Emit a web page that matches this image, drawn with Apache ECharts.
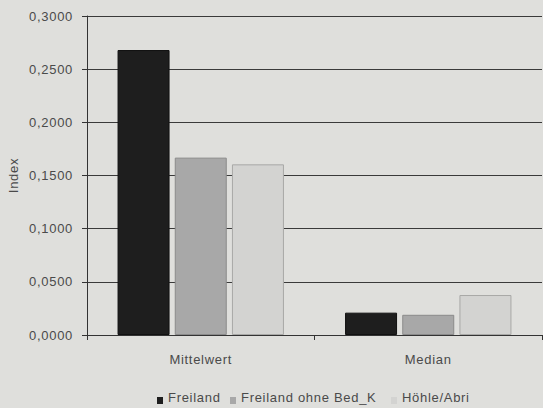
<!DOCTYPE html>
<html>
<head>
<meta charset="utf-8">
<script src="https://cdn.jsdelivr.net/npm/echarts@6/dist/echarts.min.js"></script>
<style>
  html, body { margin: 0; padding: 0; background: #dfdfdc; }
  #chart { width: 543px; height: 408px; letter-spacing: 0.7px; }
</style>
</head>
<body>
<div id="chart"></div>
<script>
// Kategorien und Werte je Fundstellentyp
const categories = ['Mittelwert', 'Median'];
const seriesNames = ['Freiland', 'Freiland ohne Bed_K', 'Höhle/Abri'];
const freiland = [0.268, 0.021];
const freilandOhneBedK = [0.1668, 0.019];
const hoehleAbri = [0.1605, 0.0376];
const yTicks = [0, 0.05, 0.1, 0.15, 0.2, 0.25, 0.3];

const colors = ['#1e1e1e', '#a8a8a8', '#d3d3d1'];
const borders = ['#111111', '#8a8a8a', '#a8a8a6'];
const valuesBySeries = [freiland, freilandOhneBedK, hoehleAbri];
const legendLeft = [157, 230, 391];

const font = 'Liberation Sans, Arial, sans-serif';
const textColor = '#4a4a4a';

const chart = echarts.init(document.getElementById('chart'), null, { renderer: 'svg' });

chart.setOption({
  backgroundColor: '#dfdfdc',
  animation: false,
  textStyle: { fontFamily: font },
  grid: { left: 87, right: 1, top: 16, bottom: 73, containLabel: false, outerBoundsMode: 'none' },
  // one legend block per series, icon sits low beside the text
  legend: seriesNames.map((name, i) => ({
    data: [name],
    top: 390,
    left: legendLeft[i],
    padding: 0,
    itemWidth: 6,
    itemHeight: 14,
    icon: 'path://M0,0L6,0M0,7L6,7L6,14L0,14Z',
    itemStyle: { borderWidth: 0 },
    textStyle: { fontFamily: font, fontSize: 13, color: textColor }
  })),
  xAxis: {
    type: 'category',
    data: categories,
    axisLine: { lineStyle: { color: '#333', width: 1 } },
    axisTick: { show: true, length: 5, alignWithLabel: false, lineStyle: { color: '#333' } },
    axisLabel: { color: textColor, fontSize: 13, margin: 18, fontFamily: font }
  },
  yAxis: {
    type: 'value',
    min: yTicks[0],
    max: yTicks[yTicks.length - 1],
    interval: 0.05,
    name: 'Index',
    nameLocation: 'middle',
    nameGap: 67,
    nameRotate: 90,
    nameTextStyle: { color: textColor, fontSize: 13, fontFamily: font },
    axisLine: { show: true, lineStyle: { color: '#333', width: 1 } },
    axisTick: { show: true, length: 5, inside: false, lineStyle: { color: '#333' } },
    axisLabel: {
      color: textColor, fontSize: 13, margin: 14, fontFamily: font,
      formatter: v => v.toFixed(4).replace('.', ',')
    },
    splitLine: { show: true, lineStyle: { color: '#3a3a3a', width: 1 } }
  },
  series: seriesNames.map((name, i) => ({
    name: name,
    type: 'bar',
    data: valuesBySeries[i],
    barWidth: 52,
    barGap: '10%',
    itemStyle: { color: colors[i], borderColor: borders[i], borderWidth: 1 }
  }))
});
</script>
</body>
</html>
